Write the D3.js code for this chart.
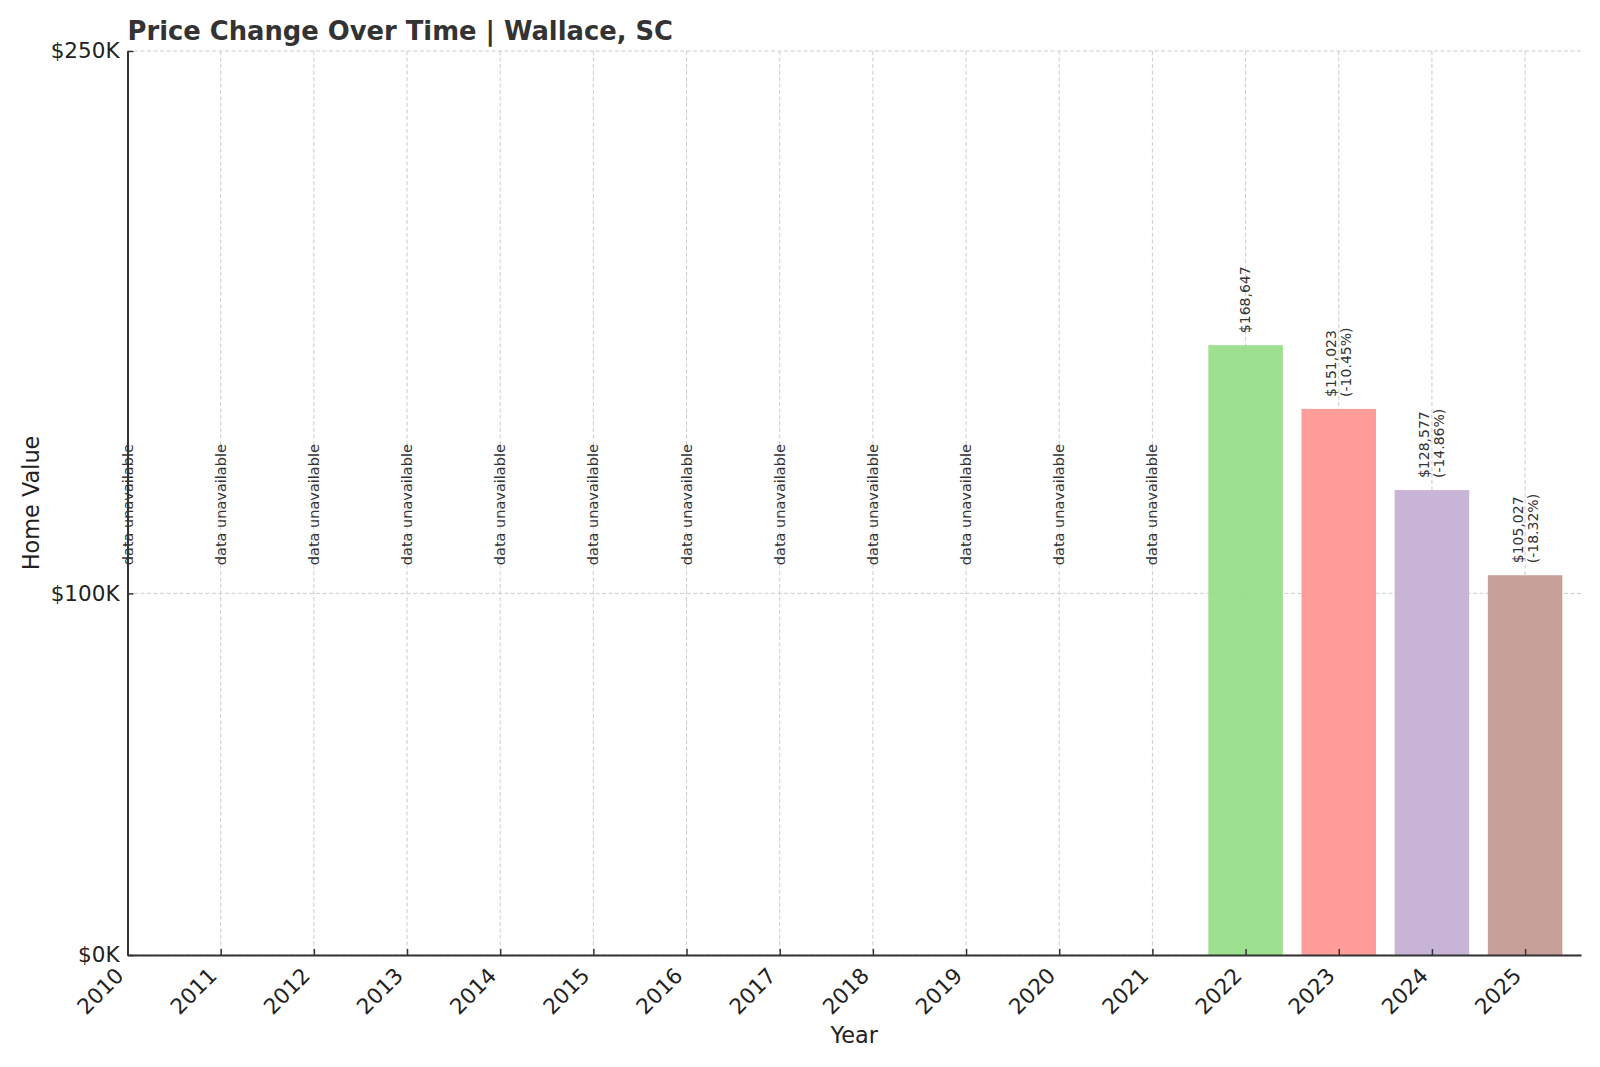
<!DOCTYPE html>
<html>
<head>
<meta charset="utf-8">
<script src="https://d3js.org/d3.v7.min.js"></script>
<style>
  body { margin: 0; background: #fff; overflow: hidden; }
  svg { display: block; }
  svg text { font-family: "DejaVu Sans", sans-serif; }
</style>
</head>
<body>
<svg id="chart" width="1600" height="1067"></svg>
<script>
// data
const years = [2010, 2011, 2012, 2013, 2014, 2015, 2016, 2017, 2018, 2019, 2020, 2021, 2022, 2023, 2024, 2025]
const values = [null, null, null, null, null, null, null, null, null, null, null, null, 168647, 151023, 128577, 105027]
const changes = [null, null, null, null, null, null, null, null, null, null, null, null, null, -10.45, -14.86, -18.32]
const barColors = ['#98df8a', '#ff9896', '#c5b0d5', '#c49c94']
const yTicks = [0, 100000, 250000]

const marginLeft = 127.5
const marginTop = 51
const plotRight = 1581
const plotBottom = 955

const svg = d3.select("#chart")

const x = d3.scaleLinear()
  .domain([2010, 2025.6])
  .range([marginLeft, plotRight])
const y = d3.scaleLinear()
  .domain([0, 250000])
  .range([plotBottom, marginTop])

const step = x(2011) - x(2010)
const barWidth = step * 0.8

// grid
svg.append("g").selectAll("line")
  .data(years)
  .join("line")
    .attr("x1", d => x(d)).attr("x2", d => x(d))
    .attr("y1", marginTop).attr("y2", plotBottom)
    .attr("stroke", "#cccccc").attr("stroke-width", 1)
    .attr("stroke-dasharray", "4,2.5")
svg.append("g").selectAll("line")
  .data(yTicks)
  .join("line")
    .attr("x1", marginLeft).attr("x2", plotRight)
    .attr("y1", d => y(d)).attr("y2", d => y(d))
    .attr("stroke", "#cccccc").attr("stroke-width", 1)
    .attr("stroke-dasharray", "4,2.5")

const data = years.map((yr, i) => ({ year: yr, value: values[i], change: changes[i] }))
const have = data.filter(d => d.value != null)
const missing = data.filter(d => d.value == null)

// bars
svg.append("g").selectAll("rect")
  .data(have)
  .join("rect")
    .attr("x", d => x(d.year) - barWidth / 2)
    .attr("width", barWidth)
    .attr("y", d => y(d.value))
    .attr("height", d => plotBottom - y(d.value))
    .attr("fill", (d, i) => barColors[i])
    .attr("opacity", 0.95)

// value labels
const fmt = d3.format(",")
const labels = svg.append("g").selectAll("text")
  .data(have)
  .join("text")
    .attr("transform", d => "translate(" + x(d.year) + "," + (y(d.value) - 12) + ") rotate(-90)")
    .attr("text-anchor", "start")
    .attr("font-size", 14)
    .attr("fill", "#333")
labels.each(function(d) {
  const t = d3.select(this)
  if (d.change == null) {
    t.append("tspan").attr("x", 0).attr("dy", "0.35em").text("$" + fmt(d.value))
  } else {
    t.append("tspan").attr("x", 0).attr("dy", -2.6).text("$" + fmt(d.value))
    t.append("tspan").attr("x", 0).attr("dy", 15).text("(" + d.change.toFixed(2) + "%)")
  }
})

// data unavailable labels
svg.append("g").selectAll("text")
  .data(missing)
  .join("text")
    .attr("transform", d => "translate(" + x(d.year) + "," + y(107800) + ") rotate(-90)")
    .attr("dy", "0.35em")
    .attr("font-size", 14.5)
    .attr("fill", "#333")
    .text("data unavailable")

// axes
const xAxis = svg.append("g")
  .attr("transform", "translate(0," + plotBottom + ")")
  .call(d3.axisBottom(x).tickValues(years).tickFormat(d3.format("d")).tickSizeInner(-6).tickSizeOuter(0))
xAxis.select(".domain").attr("stroke", "#333").attr("stroke-width", 2)
xAxis.selectAll(".tick line").attr("stroke", "#333").attr("stroke-width", 1.5)
xAxis.selectAll(".tick text")
  .attr("font-size", 21.5)
  .attr("fill", "#222")
  .attr("text-anchor", "end")
  .attr("y", 0).attr("dy", 0)
  .attr("transform", "translate(-3,22) rotate(-45)")

const yAxis = svg.append("g")
  .attr("transform", "translate(" + marginLeft + ",0)")
  .call(d3.axisLeft(y).tickValues(yTicks).tickFormat(d => "$" + (d / 1000) + "K").tickSizeInner(-6).tickSizeOuter(0).tickPadding(8))
yAxis.select(".domain").attr("stroke", "#333").attr("stroke-width", 2)
yAxis.selectAll(".tick line").attr("stroke", "#333").attr("stroke-width", 1.5)
yAxis.selectAll(".tick text").attr("font-size", 21.5).attr("fill", "#222")

// titles
svg.append("text")
  .attr("x", marginLeft)
  .attr("y", 40)
  .attr("font-size", 25.8)
  .attr("font-weight", "bold")
  .attr("fill", "#333")
  .text("Price Change Over Time | Wallace, SC")

svg.append("text")
  .attr("x", (marginLeft + plotRight) / 2)
  .attr("y", 1043)
  .attr("text-anchor", "middle")
  .attr("font-size", 22.4)
  .attr("fill", "#222")
  .text("Year")

svg.append("text")
  .attr("transform", "translate(39," + (marginTop + plotBottom) / 2 + ") rotate(-90)")
  .attr("text-anchor", "middle")
  .attr("font-size", 22.4)
  .attr("fill", "#222")
  .text("Home Value")
</script>
</body>
</html>
